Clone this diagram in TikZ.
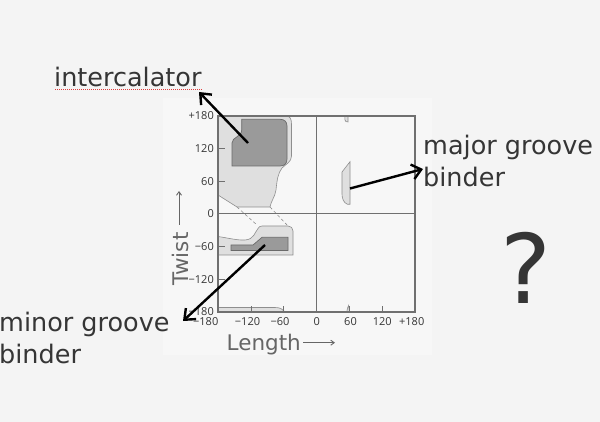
\documentclass[tikz,border=0pt]{standalone}
\usepackage{fontspec}
\setmainfont{DejaVu Sans}
\newfontfamily\tickfont{Open Sans}
\usetikzlibrary{arrows.meta}
\definecolor{bgc}{HTML}{F4F4F4}
\definecolor{panelc}{HTML}{F7F7F7}
\definecolor{lightc}{HTML}{DFDFDF}
\definecolor{lightline}{HTML}{8E8E8E}
\definecolor{darkc}{HTML}{9A9A9A}
\definecolor{darkline}{HTML}{6A6A6A}
\definecolor{framec}{HTML}{707070}
\definecolor{txtc}{HTML}{353535}
\definecolor{axc}{HTML}{666666}
\definecolor{spellc}{HTML}{E03C3C}
\tikzset{
  lightreg/.style={fill=lightc, draw=lightline, line width=0.6pt},
  darkreg/.style={fill=darkc, draw=darkline, line width=0.7pt},
  framel/.style={draw=framec, line width=1.1pt},
  tickl/.style={draw=framec, line width=0.9pt},
  ticklab/.style={font=\tickfont\fontsize{11}{13}\selectfont, text=txtc, inner sep=0pt},
  biglab/.style={font=\fontsize{25.5}{31}\selectfont, text=txtc, inner sep=0pt},
  axlab/.style={font=\fontsize{21.5}{26}\selectfont, text=axc, inner sep=0pt},
  bigarrow/.style={draw=black, line width=2.4pt, -{Straight Barb[length=9pt,width=15pt]}},
  smallarrow/.style={draw=axc, line width=0.9pt, -{Straight Barb[length=3.5pt,width=5pt]}},
  dashl/.style={draw=lightline, line width=0.6pt, dash pattern=on 3pt off 2.5pt},
  spellline/.style={draw=spellc, line width=1pt, dash pattern=on 1pt off 1pt},
}
\begin{document}
\begin{tikzpicture}[x=1pt,y=-1pt]
\useasboundingbox (0,0) rectangle (600,422);
\fill[bgc] (0,0) rectangle (600,422);
\fill[panelc] (163,98) rectangle (432,355);

% upper-left light region
\filldraw[lightreg] (218,116) -- (286,116) .. controls (290,116) and (291.5,119) .. (291.5,124)
  -- (291.5,156) .. controls (291.5,162) and (286,164) .. (282,168)
  .. controls (278,173) and (277,180) .. (276,190)
  .. controls (275,197) and (271,201) .. (270,207) -- (237,207) -- (218,195) -- cycle;
% upper-left dark region
\filldraw[darkreg] (241.7,119.3) -- (280,119.3) .. controls (284.5,119.3) and (287,121.8) .. (287,126)
  -- (287,159) .. controls (287,163.5) and (284.5,166) .. (280,166) -- (232,166) -- (232,143)
  .. controls (232,137) and (241.7,137) .. (241.7,130) -- cycle;
% dashed connectors between regions
\draw[dashl] (237,207) -- (257,225);
\draw[dashl] (270,207) -- (288,226);
% lower-left light region
\filldraw[lightreg] (218,236.5) .. controls (228,238) and (238,240.5) .. (245,240)
  .. controls (254,239.5) and (255,232) .. (258,228.5) .. controls (259,226.8) and (260,226) .. (262,226)
  -- (288,226) .. controls (291,226) and (293,228) .. (293,231) -- (293,255) -- (218,255) -- cycle;
% lower-left dark region
\filldraw[darkreg] (231,245) -- (253,245) -- (262,237.3) -- (288,237.3) -- (288,250.5) -- (231,250.5) -- cycle;
% bottom sliver
\filldraw[lightreg] (218,307.5) -- (275,307.5) .. controls (280,307.5) and (283,309) .. (285,312) -- (218,312) -- cycle;
% tiny top-right sliver
\filldraw[lightreg] (344.8,116) -- (344.8,119.5) .. controls (344.8,121.5) and (346.5,122) .. (348,122) -- (348,116) -- cycle;
% major groove region
\filldraw[lightreg] (350,161.7) -- (350,204.3) -- (347.5,204.3) .. controls (343.5,203) and (342,198) .. (342,194)
  -- (342,172) -- cycle;
% bottom small spike at 60
\filldraw[lightreg] (346.8,312) .. controls (346.8,309) and (348,307) .. (348.6,305.5) -- (349.6,312) -- cycle;

% frame and axes
\draw[framel] (218,116) rectangle (415,312);
\draw[framel] (316.6,116) -- (316.6,312);
\draw[framel] (218,213.8) -- (415,213.8);
\foreach \yy in {148.5,181.1,246.5,279.1} \draw[tickl] (218,\yy) -- (224.5,\yy);
\foreach \xx in {251,283.8,349.4,382.3} \draw[tickl] (\xx,312) -- (\xx,305.5);

% y tick labels
\node[ticklab, anchor=east] (y180) at (214,116) {+180};
\node[ticklab, anchor=east] (y120) at (214,148.5) {120};
\node[ticklab, anchor=east] (y60) at (214,181.1) {60};
\node[ticklab, anchor=east] (y0) at (214,213.8) {0};
\node[ticklab, anchor=east] (ym60) at (214,246.5) {−60};
\node[ticklab, anchor=east] (ym120) at (214,279.1) {−120};
\node[ticklab, anchor=east] (ym180) at (214,311.5) {−180};
% x tick labels
\node[ticklab, anchor=east] (xm180) at (218.5,321.5) {−180};
\node[ticklab] (xm120) at (247.5,321.5) {−120};
\node[ticklab] (xm60) at (280,321.5) {−60};
\node[ticklab] (x0) at (316.7,321.5) {0};
\node[ticklab] (x60) at (350.5,321.5) {60};
\node[ticklab] (x120) at (382.3,321.5) {120};
\node[ticklab] (x180) at (411.7,321.5) {+180};

% axis titles
\node[axlab, anchor=base west] (lenlab) at (226.5,350) {Length};
\coordinate (lenA) at (303,342.7);
\coordinate (lenB) at (335,342.7);
\draw[smallarrow] (lenA) -- (lenB);
\node[axlab, anchor=base west, rotate=90] (twlab) at (188,285.5) {Twist};
\coordinate (twA) at (179,225);
\coordinate (twB) at (179,191);
\draw[smallarrow] (twA) -- (twB);

% annotation labels
\node[biglab, anchor=base west] (inter) at (54,86.7) {intercalator};
\coordinate (ulA) at (55,89.5);
\coordinate (ulB) at (203,89.5);
\draw[spellline] (ulA) -- (ulB);
\node[biglab, anchor=base west] (major1) at (423,155) {major groove};
\node[biglab, anchor=base west] (major2) at (423,187) {binder};
\node[biglab, anchor=base west] (minor1) at (-1,331.7) {minor groove};
\node[biglab, anchor=base west] (minor2) at (-1,363) {binder};
\node[font=\fontsize{96}{100}\selectfont, text=txtc, inner sep=0pt, anchor=base] (qm) at (526,303) {?};

% arrows
\coordinate (interTail) at (248,143);
\coordinate (interTip) at (199,92);
\coordinate (majTail) at (350,188.5);
\coordinate (majTip) at (423,169);
\coordinate (minTail) at (265,245);
\coordinate (minTip) at (183,321);
\draw[bigarrow] (interTail) -- (interTip);
\draw[bigarrow] (majTail) -- (majTip);
\draw[bigarrow] (minTail) -- (minTip);
\end{tikzpicture}
\end{document}
